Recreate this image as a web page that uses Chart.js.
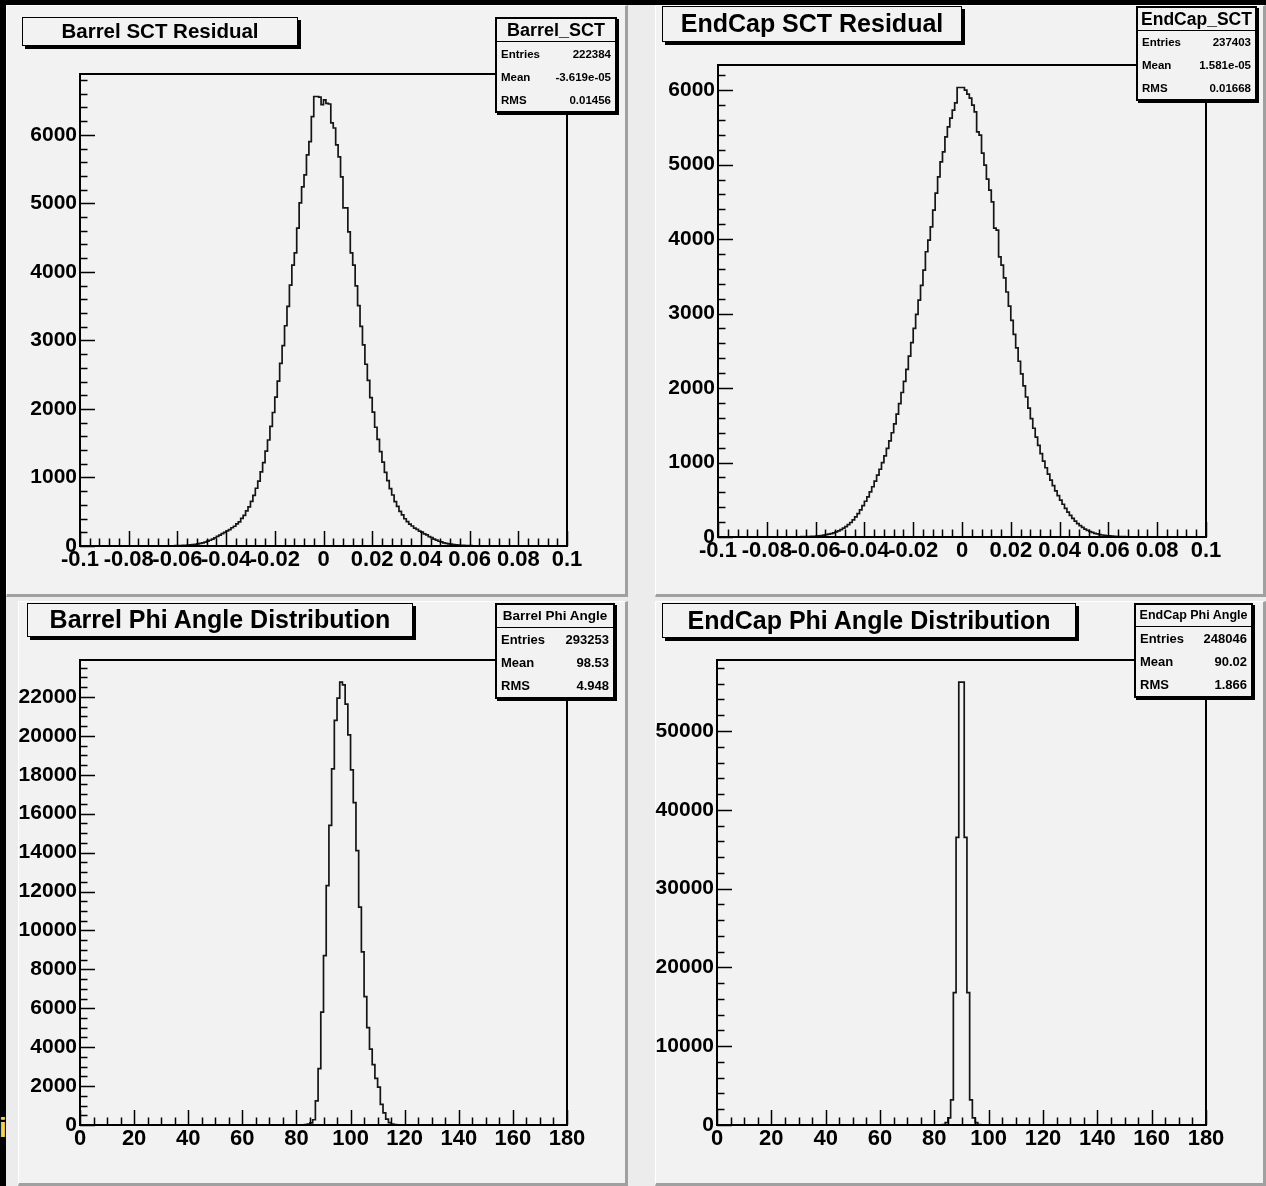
<!DOCTYPE html>
<html>
<head>
<meta charset="utf-8">
<title>SCT residuals and phi angle</title>
<script src="https://cdn.jsdelivr.net/npm/chart.js@4.4.1/dist/chart.umd.min.js"></script>
<style>
html, body { margin: 0; padding: 0; background: #000; }
#page { position: relative; width: 1266px; height: 1186px; overflow: hidden; background: #000; font-family: "Liberation Sans", Arial, sans-serif; }
#sheet { position: absolute; left: 6px; top: 5px; width: 1260px; height: 1181px; background: #ececec; }
.pad { position: absolute; background: #f2f2f2; box-sizing: border-box; border-top: 1px solid #fff; border-left: 1px solid #fff; border-right: 3px solid #a0a0a0; border-bottom: 3px solid #a0a0a0; }
canvas { position: absolute; }
.title { position: absolute; box-sizing: border-box; background: #f2f2f2; border: 1.5px solid #000; box-shadow: 3px 3px 0 #000; font-weight: bold; text-align: center; color: #000; white-space: nowrap; }
.stats { position: absolute; box-sizing: border-box; background: #f2f2f2; border: 2px solid #000; box-shadow: 2px 2px 0 #000; font-weight: bold; display: flex; flex-direction: column; color: #000; }
.stats .hd { text-align: center; border-bottom: 1.5px solid #000; white-space: nowrap; }
.stats .rw { flex: 1; display: flex; justify-content: space-between; align-items: center; padding: 0 4px; }
#edge { position: absolute; left: -1px; top: 1112px; color: #e6d66a; font: bold 28px "Liberation Sans", Arial, sans-serif; }
</style>
</head>
<body>
<div id="page">
  <div id="sheet"></div>
  <div id="edge">i</div>
</div>
<script>
// tick labels
const residualTicks = [-0.1, -0.08, -0.06, -0.04, -0.02, 0, 0.02, 0.04, 0.06, 0.08, 0.1];
const phiTicks = [0, 20, 40, 60, 80, 100, 120, 140, 160, 180];
const barrelSctYTicks = [0, 1000, 2000, 3000, 4000, 5000, 6000];
const endcapSctYTicks = [0, 1000, 2000, 3000, 4000, 5000, 6000];
const barrelPhiYTicks = [0, 2000, 4000, 6000, 8000, 10000, 12000, 14000, 16000, 18000, 20000, 22000];
const endcapPhiYTicks = [0, 10000, 20000, 30000, 40000, 50000];

// histogram contents, 200 bins from -0.1 to 0.1
const barrelSctCounts = [
  0, 0, 0, 0, 0, 0, 0, 0, 0, 0,
  0, 0, 0, 0, 0, 0, 0, 0, 0, 0,
  0, 0, 0, 0, 0, 1, 0, 1, 1, 1,
  1, 1, 2, 2, 2, 3, 3, 4, 4, 5,
  6, 7, 9, 11, 13, 16, 20, 25, 31, 38,
  47, 58, 71, 84, 101, 118, 141, 158, 182, 199,
  221, 238, 266, 288, 322, 352, 403, 447, 512, 571,
  652, 738, 843, 946, 1083, 1216, 1384, 1547, 1745, 1948,
  2172, 2405, 2664, 2925, 3214, 3497, 3806,
  4100, 4277, 4640, 5007, 5240, 5416, 5708, 5902, 6267, 6560, 6560, 6550, 6440,
  6510, 6460, 6450, 6175, 6100, 5854, 5680, 5387, 4934, 4934, 4584, 4277, 4100,
  3795, 3508, 3204, 2936, 2652, 2418, 2166,
  1955, 1733, 1556, 1377, 1224, 1075, 954, 836, 744, 648,
  578, 506, 453, 398, 357, 318, 292, 262, 243, 218,
  203, 178, 162, 138, 121, 99, 86, 69, 59, 46,
  39, 30, 26, 19, 16, 13, 11, 9, 7, 6,
  5, 4, 4, 3, 3, 2, 2, 2, 1, 1,
  1, 1, 0, 1, 0, 0, 1, 0, 0, 0,
  0, 0, 0, 0, 0, 0, 0, 0, 0, 0,
  0, 0, 0, 0, 0, 0, 0, 0, 0, 0
];
const endcapSctCounts = [
  0, 0, 0, 0, 0, 0, 0, 0, 0, 0,
  0, 0, 0, 0, 0, 0, 0, 0, 0, 0,
  0, 0, 0, 1, 0, 1, 1, 1, 1, 2,
  2, 2, 3, 3, 4, 5, 6, 7, 8, 10,
  13, 16, 20, 25, 31, 38, 46, 56, 68, 82,
  98, 118, 140, 165, 195, 230, 270, 315, 365, 420,
  480, 540, 605, 675, 750, 830, 910, 1000, 1090, 1190,
  1290, 1400, 1520, 1650, 1790, 1940, 2090, 2250, 2430, 2610,
  2800, 2990, 3180, 3380,
  3584, 3830, 3987, 4165, 4389, 4617, 4836, 5038, 5172, 5373, 5507, 5624, 5732, 5830, 6036, 6036,
  6036, 6000, 5946, 5893, 5800, 5709, 5440, 5396, 5154, 4993, 4805, 4658, 4500, 4148, 4121, 3762, 3651,
  3480, 3290, 3100, 2910, 2720, 2540, 2360, 2190, 2030, 1880,
  1730, 1590, 1460, 1340, 1230, 1120, 1020, 930, 845, 765,
  690, 620, 555, 495, 440, 385, 335, 290, 250, 212,
  180, 152, 128, 107, 89, 74, 61, 50, 41, 33,
  27, 22, 17, 14, 11, 9, 7, 6, 5, 4,
  3, 3, 2, 2, 2, 1, 1, 1, 0, 1,
  0, 0, 0, 0, 0, 0, 0, 0, 0, 0,
  0, 0, 0, 0, 0, 0, 0, 0, 0, 0, 0, 0, 0
];
// 180 bins from 0 to 180 degrees
const barrelPhiCounts = [
  0, 0, 0, 0, 0, 0, 0, 0, 0, 0,
  0, 0, 0, 0, 0, 0, 0, 0, 0, 0,
  0, 0, 0, 0, 0, 0, 0, 0, 0, 0,
  0, 0, 0, 0, 0, 0, 0, 0, 0, 0,
  0, 0, 0, 0, 0, 0, 0, 0, 0, 0,
  0, 0, 0, 0, 0, 0, 0, 0, 0, 0,
  0, 0, 0, 0, 0, 0, 0, 0, 0, 0,
  0, 0, 0, 0, 0, 0, 0, 0, 0, 0,
  0, 0, 0, 20, 50, 110, 270, 1240, 2900, 5800,
  8700, 12300, 15400, 18300, 20790, 21940, 22760, 22620, 21630, 20050,
  18250, 16570, 14100, 11200, 8900, 6600, 5000, 3900, 3100, 2400,
  1950, 1060, 620, 300, 120, 40, 15, 0, 0, 0,
  0, 0, 0, 0, 0, 0, 0, 0, 0, 0,
  0, 0, 0, 0, 0, 0, 0, 0, 0, 0,
  0, 0, 0, 0, 0, 0, 0, 0, 0, 0,
  0, 0, 0, 0, 0, 0, 0, 0, 0, 0,
  0, 0, 0, 0, 0, 0, 0, 0, 0, 0,
  0, 0, 0, 0, 0, 0, 0, 0, 0, 0
];
const endcapPhiCounts = [
  0, 0, 0, 0, 0, 0, 0, 0, 0, 0,
  0, 0, 0, 0, 0, 0, 0, 0, 0, 0,
  0, 0, 0, 0, 0, 0, 0, 0, 0, 0,
  0, 0, 0, 0, 0, 0, 0, 0, 0, 0,
  0, 0, 0, 0, 0, 0, 0, 0, 0, 0,
  0, 0, 0, 0, 0, 0, 0, 0, 0, 0,
  0, 0, 0, 0, 0, 0, 0, 0, 0, 0,
  0, 0, 0, 0, 0, 0, 0, 0, 0, 0,
  0, 0, 20, 60, 300, 900, 3200, 16800, 36500, 56200,
  56200, 36500, 16800, 3200, 900, 300, 60, 20, 0, 0,
  0, 0, 0, 0, 0, 0, 0, 0, 0, 0,
  0, 0, 0, 0, 0, 0, 0, 0, 0, 0,
  0, 0, 0, 0, 0, 0, 0, 0, 0, 0,
  0, 0, 0, 0, 0, 0, 0, 0, 0, 0,
  0, 0, 0, 0, 0, 0, 0, 0, 0, 0,
  0, 0, 0, 0, 0, 0, 0, 0, 0, 0,
  0, 0, 0, 0, 0, 0, 0, 0, 0, 0,
  0, 0, 0, 0, 0, 0, 0, 0, 0, 0
];

// titles and stat boxes
const panelTitles = ['Barrel SCT Residual', 'EndCap SCT Residual', 'Barrel Phi Angle Distribution', 'EndCap Phi Angle Distribution'];
const statNames = ['Barrel_SCT', 'EndCap_SCT', 'Barrel Phi Angle', 'EndCap Phi Angle'];
const statEntries = ['222384', '237403', '293253', '248046'];
const statMeans = ['-3.619e-05', '1.581e-05', '98.53', '90.02'];
const statRms = ['0.01456', '0.01668', '4.948', '1.866'];

const FONT = '"Liberation Sans", Arial, sans-serif';

// layout of the four pads (page pixels)
const panels = [
  { pad: [6, 5, 622, 592], frame: [80, 74, 567, 546], counts: barrelSctCounts, xmin: -0.1, xmax: 0.1,
    xTicks: residualTicks, xMinor: 0.004, yTicks: barrelSctYTicks, yMinor: 200,
    title: [22, 17, 276, 29, 20.5], stats: [495, 17, 122, 96, 22, 18, 11.5] },
  { pad: [655, 5, 611, 592], frame: [718, 65, 1206, 537], counts: endcapSctCounts, xmin: -0.1, xmax: 0.1,
    xTicks: residualTicks, xMinor: 0.004, yTicks: endcapSctYTicks, yMinor: 200,
    title: [662, 6, 300, 36, 25], stats: [1136, 6, 121, 95, 22, 17.5, 11.5] },
  { pad: [18, 601, 610, 585], frame: [80, 660, 567, 1125], counts: barrelPhiCounts, xmin: 0, xmax: 180,
    xTicks: phiTicks, xMinor: 5, yTicks: barrelPhiYTicks, yMinor: 500,
    title: [27, 603, 386, 34, 25], stats: [495, 603, 120, 96, 22, 13.5, 13] },
  { pad: [655, 601, 611, 585], frame: [717, 660, 1206, 1125], counts: endcapPhiCounts, xmin: 0, xmax: 180,
    xTicks: phiTicks, xMinor: 5, yTicks: endcapPhiYTicks, yMinor: 2000,
    title: [662, 603, 414, 35, 25], stats: [1134, 603, 119, 95, 21, 12.5, 13] }
];

function fmtTick(v) {
  const s = parseFloat(Number(v).toFixed(3));
  return String(s === 0 ? 0 : s);
}

// frame and inward ROOT style ticks
const rootFrame = {
  id: 'rootFrame',
  afterDatasetsDraw(chart, args, opts) {
    const { ctx, chartArea: a, scales: { x, y } } = chart;
    ctx.save();
    ctx.strokeStyle = '#000';
    ctx.lineWidth = 1.5;
    ctx.beginPath();
    const nx = Math.round((opts.xmax - opts.xmin) / opts.xMinor);
    for (let k = 0; k <= nx; k++) {
      const v = opts.xmin + k * opts.xMinor;
      const major = opts.xTicks.some(t => Math.abs(t - v) < opts.xMinor / 10);
      const px = Math.round(x.getPixelForValue(v)) + 0.5;
      ctx.moveTo(px, a.bottom);
      ctx.lineTo(px, a.bottom - (major ? 15 : 7.5));
    }
    const ny = Math.floor(y.max / opts.yMinor);
    for (let k = 0; k <= ny; k++) {
      const v = k * opts.yMinor;
      const major = opts.yTicks.includes(v);
      const py = Math.round(y.getPixelForValue(v)) + 0.5;
      ctx.moveTo(a.left, py);
      ctx.lineTo(a.left + (major ? 15 : 7.5), py);
    }
    ctx.stroke();
    ctx.lineWidth = 2;
    ctx.strokeRect(a.left, a.top, a.right - a.left, a.bottom - a.top);
    ctx.restore();
  }
};

function buildPanel(p, i) {
  const page = document.getElementById('page');
  const [cx, cy, cw, ch] = p.pad;
  const [L, T, R, B] = p.frame;

  const pad = document.createElement('div');
  pad.className = 'pad';
  Object.assign(pad.style, { left: cx + 'px', top: cy + 'px', width: cw + 'px', height: ch + 'px' });
  page.appendChild(pad);

  const cv = document.createElement('canvas');
  cv.width = cw; cv.height = ch;
  Object.assign(cv.style, { left: cx + 'px', top: cy + 'px' });
  page.appendChild(cv);

  const n = p.counts.length;
  const bw = (p.xmax - p.xmin) / n;
  const pts = [{ x: p.xmin, y: 0 }];
  p.counts.forEach((c, k) => pts.push({ x: p.xmin + k * bw, y: c }));
  pts.push({ x: p.xmax, y: p.counts[n - 1] });
  pts.push({ x: p.xmax, y: 0 });

  const yW = L - cx;
  const xH = 44;
  const xFont = { family: FONT, size: 22, weight: 'bold' };
  const yFont = { family: FONT, size: 21, weight: 'bold' };

  new Chart(cv, {
    type: 'line',
    data: { datasets: [{ data: pts, borderColor: '#151515', borderWidth: 1.7, pointRadius: 0, stepped: true, fill: false }] },
    options: {
      responsive: false,
      animation: false,
      devicePixelRatio: 1,
      layout: { padding: { left: 0, top: T - cy, right: cx + cw - R, bottom: cy + ch - B - xH } },
      plugins: {
        legend: { display: false },
        tooltip: { enabled: false },
        rootFrame: { xmin: p.xmin, xmax: p.xmax, xMinor: p.xMinor, xTicks: p.xTicks, yTicks: p.yTicks, yMinor: p.yMinor }
      },
      scales: {
        x: {
          type: 'linear', min: p.xmin, max: p.xmax,
          grid: { display: false, drawTicks: false }, border: { display: false },
          ticks: { autoSkip: false, maxRotation: 0, padding: 1, color: '#000', font: xFont, callback: v => fmtTick(v) },
          afterBuildTicks: s => { s.ticks = p.xTicks.map(v => ({ value: v })); },
          afterFit: s => { s.height = xH; s.paddingLeft = 0; s.paddingRight = 0; }
        },
        y: {
          type: 'linear', min: 0, max: Math.max(...p.counts) * 1.05,
          grid: { display: false, drawTicks: false }, border: { display: false },
          ticks: { autoSkip: false, padding: 3, color: '#000', font: yFont, callback: v => fmtTick(v) },
          afterBuildTicks: s => { s.ticks = p.yTicks.map(v => ({ value: v })); },
          afterFit: s => { s.width = yW; s.paddingTop = 0; s.paddingBottom = 0; }
        }
      }
    },
    plugins: [rootFrame]
  });

  const [tx, ty, tw, th, ts] = p.title;
  const t = document.createElement('div');
  t.className = 'title';
  t.textContent = panelTitles[i];
  Object.assign(t.style, { left: tx + 'px', top: ty + 'px', width: tw + 'px', height: th + 'px', lineHeight: (th - 3) + 'px', fontSize: ts + 'px' });
  page.appendChild(t);

  const [sx, sy, sw, sh, hh, hs, rs] = p.stats;
  const st = document.createElement('div');
  st.className = 'stats';
  Object.assign(st.style, { left: sx + 'px', top: sy + 'px', width: sw + 'px', height: sh + 'px' });
  const hd = document.createElement('div');
  hd.className = 'hd';
  hd.textContent = statNames[i];
  Object.assign(hd.style, { height: hh + 'px', lineHeight: hh + 'px', fontSize: hs + 'px' });
  st.appendChild(hd);
  [['Entries', statEntries[i]], ['Mean', statMeans[i]], ['RMS', statRms[i]]].forEach(([k, v]) => {
    const rw = document.createElement('div');
    rw.className = 'rw';
    rw.style.fontSize = rs + 'px';
    rw.innerHTML = '<span>' + k + '</span><span>' + v + '</span>';
    st.appendChild(rw);
  });
  page.appendChild(st);
}

panels.forEach(buildPanel);
</script>
</body>
</html>
